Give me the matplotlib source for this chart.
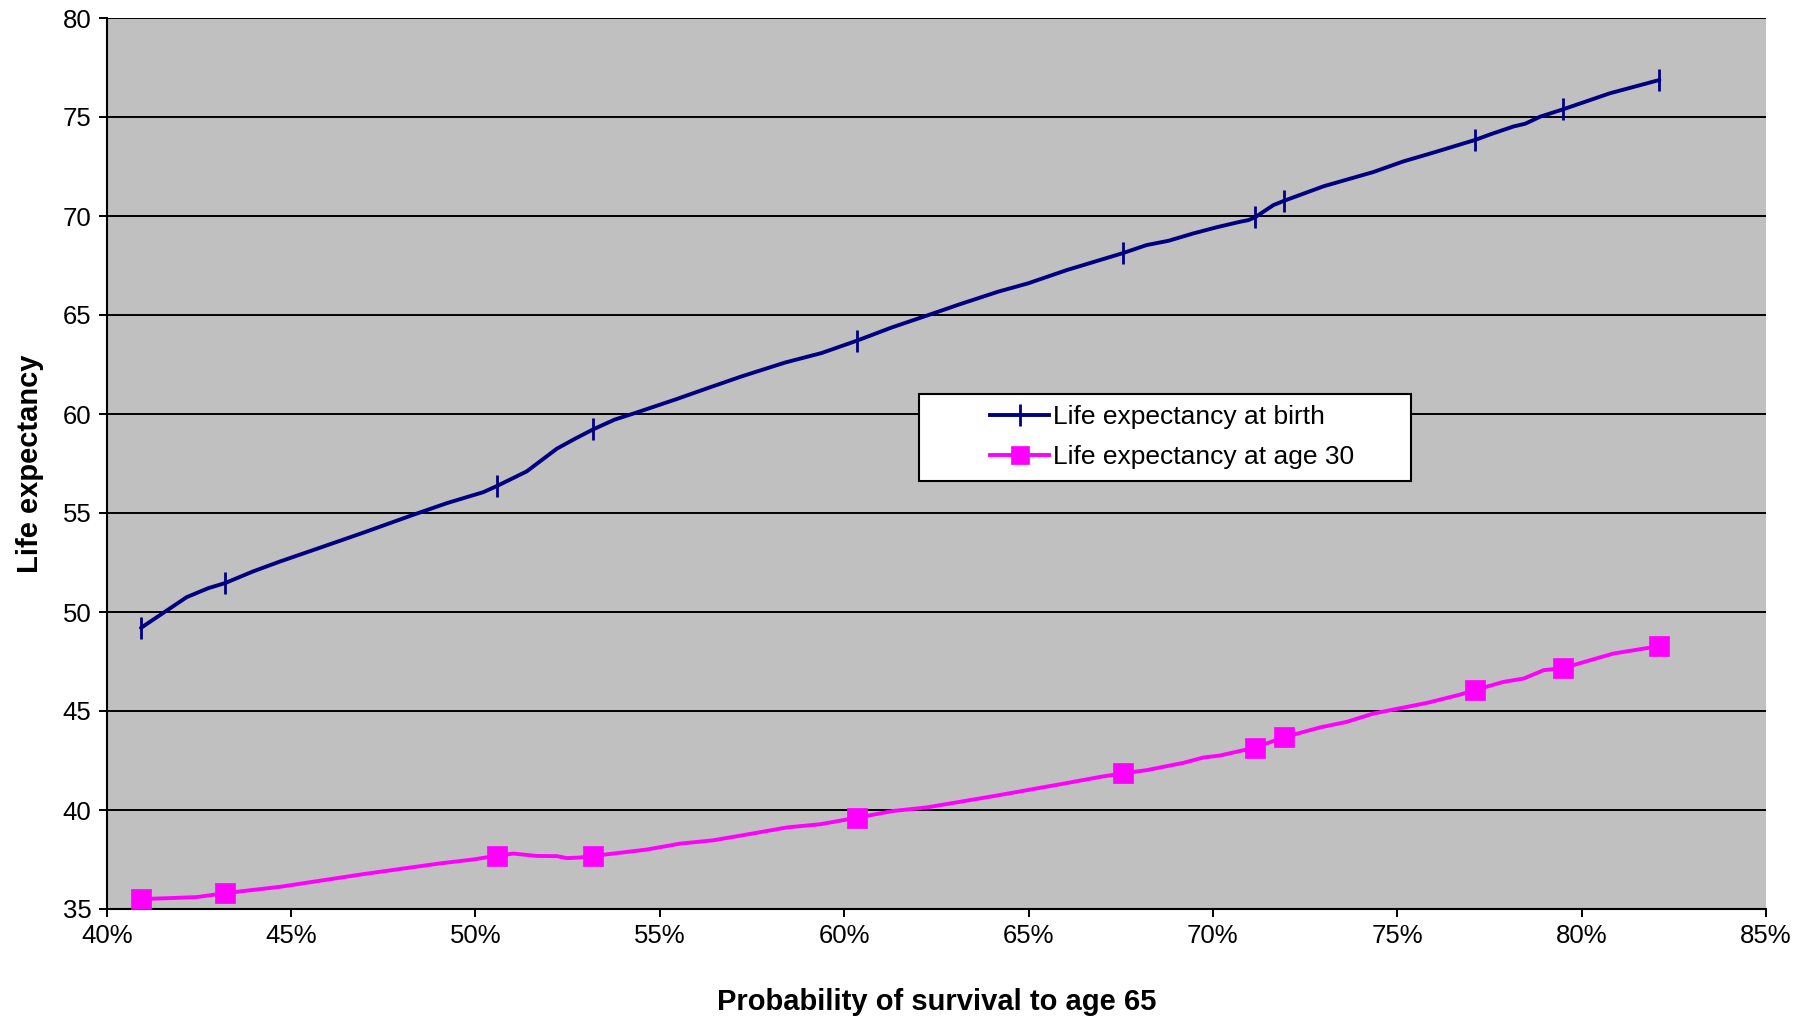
import matplotlib
matplotlib.use("Agg")
import matplotlib.pyplot as plt
from matplotlib.legend_handler import HandlerLine2D
from matplotlib.lines import Line2D
from matplotlib.ticker import FuncFormatter, MultipleLocator

plt.rcParams['font.family'] = ['Liberation Sans', 'DejaVu Sans']

# ---- data (probability of survival to age 65, %) ----
birth_x = [40.93, 42.17, 42.75, 43.21, 43.97, 44.70, 45.79, 46.95, 48.30, 49.23, 50.21, 50.58,
           51.39, 52.21, 52.70, 53.20, 53.78, 54.33, 55.42, 56.32, 57.22, 58.40, 59.39, 60.34,
           61.29, 62.29, 63.10, 64.18, 64.99, 66.04, 67.55, 68.20, 68.80, 69.47, 70.10, 70.74,
           70.96, 71.14, 71.64, 71.92, 72.46, 73.00, 74.35, 75.17, 75.94, 77.11, 77.52, 78.15,
           78.47, 78.88, 79.50, 80.77, 82.11]
birth_y = [49.2, 50.75, 51.2, 51.46, 52.05, 52.55, 53.25, 54.0, 54.9, 55.5, 56.05, 56.36,
           57.1, 58.25, 58.75, 59.23, 59.72, 60.05, 60.73, 61.32, 61.9, 62.6, 63.08, 63.7,
           64.37, 65.0, 65.52, 66.18, 66.6, 67.27, 68.12, 68.53, 68.75, 69.12, 69.43, 69.71,
           69.79, 69.93, 70.55, 70.76, 71.13, 71.5, 72.22, 72.76, 73.18, 73.84, 74.12, 74.52,
           74.66, 75.02, 75.39, 76.2, 76.87]

age30_x = [40.93, 41.71, 42.44, 43.21, 44.70, 46.96, 49.03, 49.94, 50.58, 51.03, 51.66, 52.21,
           52.48, 52.83, 53.20, 54.64, 55.55, 56.45, 57.36, 58.45, 59.35, 60.34, 61.33, 62.24,
           64.05, 65.86, 66.94, 67.55, 68.20, 69.20, 69.74, 70.19, 71.14, 71.92, 72.91, 73.63,
           74.35, 75.81, 76.71, 77.11, 77.88, 78.43, 78.97, 79.50, 80.86, 82.11]
age30_y = [35.5, 35.55, 35.6, 35.8, 36.12, 36.76, 37.3, 37.5, 37.69, 37.8, 37.68, 37.67,
           37.57, 37.6, 37.68, 38.0, 38.3, 38.47, 38.76, 39.12, 39.28, 39.61, 39.95, 40.13,
           40.7, 41.3, 41.67, 41.85, 42.01, 42.38, 42.65, 42.75, 43.15, 43.67, 44.17, 44.45,
           44.87, 45.41, 45.83, 46.06, 46.47, 46.64, 47.06, 47.17, 47.9, 48.28]

marker_x = [40.93, 43.21, 50.58, 53.20, 60.34, 67.55, 71.14, 71.92, 77.11, 79.50, 82.11]
birth_marker_y = [49.2, 51.46, 56.36, 59.23, 63.7, 68.12, 69.93, 70.76, 73.84, 75.39, 76.87]
age30_marker_y = [35.5, 35.8, 37.69, 37.68, 39.61, 41.85, 43.15, 43.67, 46.06, 47.17, 48.28]

series_labels = ["Life expectancy at birth", "Life expectancy at age 30"]
x_label = "Probability of survival to age 65"
y_label = "Life expectancy"

NAVY = "#000080"
MAGENTA = "#FF00FF"

W, H = 1816, 1016
fig = plt.figure(figsize=(W / 100, H / 100), dpi=100)
ax_left, ax_right, ax_top, ax_bot = 106.7, 1766, 18, 909
ax = fig.add_axes([ax_left / W, 1 - ax_bot / H, (ax_right - ax_left) / W, (ax_bot - ax_top) / H])
ax.set_facecolor("#C0C0C0")

lw = 2.8
ax.plot(birth_x, birth_y, color=NAVY, lw=lw, solid_capstyle='round', zorder=3)
ax.plot(marker_x, birth_marker_y, ls='none', marker='|', ms=16, mew=2, color=NAVY, zorder=4)
ax.plot(age30_x, age30_y, color=MAGENTA, lw=lw, solid_capstyle='round', zorder=3)
ax.plot(marker_x, age30_marker_y, ls='none', marker='s', ms=15, mew=0.5, color=MAGENTA, zorder=4)

ax.set_xlim(40, 85)
ax.set_ylim(35, 80)
ax.xaxis.set_major_locator(MultipleLocator(5))
ax.yaxis.set_major_locator(MultipleLocator(5))
ax.xaxis.set_major_formatter(FuncFormatter(lambda v, p: f"{int(round(v))}%"))
ax.grid(axis='y', color='black', lw=1.4, zorder=1)
ax.set_axisbelow(True)

for s in ['top', 'right']:
    ax.spines[s].set_visible(False)
for s in ['left', 'bottom']:
    ax.spines[s].set_color('black')
    ax.spines[s].set_linewidth(1.5)

ax.tick_params(axis='both', direction='out', length=6, width=1.4, color='black',
               labelsize=18.5, labelcolor='black')
ax.tick_params(axis='y', pad=5)
ax.tick_params(axis='x', pad=5)

ax.set_xlabel(x_label, fontsize=21, fontweight='bold')
ax.set_ylabel(y_label, fontsize=21, fontweight='bold')
ax.xaxis.set_label_coords(0.5, (ax_bot - 1002) / (ax_bot - ax_top))
ax.xaxis.label.set_va('center')
ax.yaxis.set_label_coords((30 - ax_left) / (ax_right - ax_left), 0.5)
ax.yaxis.label.set_va('center')
ax.yaxis.label.set_ha('center')

h1 = Line2D([], [], color=NAVY, lw=lw, marker='|', ms=16, mew=2)
h2 = Line2D([], [], color=MAGENTA, lw=lw, marker='s', ms=13, mew=0.5)
fs = 19
leg_box = (919.5 / W, 1 - 482 / H, 491 / W, 88.5 / H)
leg = fig.legend([h1, h2], series_labels, loc='upper left', bbox_to_anchor=leg_box,
                 bbox_transform=fig.transFigure, mode='expand', borderaxespad=0,
                 fontsize=fs, frameon=True, fancybox=False, shadow=False,
                 edgecolor='black', facecolor='white', framealpha=1,
                 handlelength=4.45, handletextpad=0.17, labelspacing=0.6, borderpad=0.45,
                 handler_map={h1: HandlerLine2D(xpad=2.23), h2: HandlerLine2D(xpad=2.23)})
leg.get_frame().set_linewidth(1.5)

fig.savefig("out.png", dpi=100)
